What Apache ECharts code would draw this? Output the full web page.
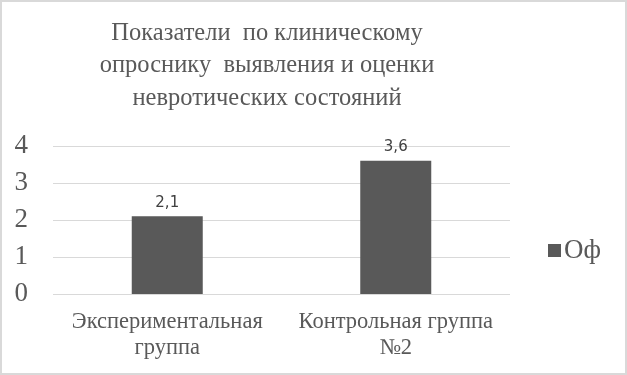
<!DOCTYPE html>
<html><head><meta charset="utf-8">
<script src="https://cdn.jsdelivr.net/npm/echarts@6/dist/echarts.min.js"></script>
<style>html,body{margin:0;padding:0;background:#fff}#c{width:627px;height:375px}</style>
</head><body><div id="c"></div>
<script>
var titleLines = ['Показатели  по клиническому', 'опроснику  выявления и оценки', 'невротических состояний'];
var categories = ['Экспериментальная\nгруппа', 'Контрольная группа\n№2'];
var seriesName = 'Оф';
var values = [2.1, 3.6];
var yTicks = [0, 1, 2, 3, 4];

var chart = echarts.init(document.getElementById('c'), null, {renderer: 'canvas'});
chart.setOption({
  animation: false,
  backgroundColor: '#fff',
  graphic: [{type: 'rect', shape: {x: 1, y: 1, width: 625, height: 373}, style: {fill: 'none', stroke: '#d9d9d9', lineWidth: 2}, silent: true}],
  title: {
    text: titleLines.join('\n'),
    left: 262, top: 12, textAlign: 'center',
    textStyle: {fontFamily: 'Liberation Serif', fontSize: 24.5, fontWeight: 'normal', color: '#595959', lineHeight: 32.5}
  },
  legend: {
    data: [seriesName], left: 543, top: 232, icon: 'rect', itemWidth: 13, itemHeight: 13, itemGap: 6,
    textStyle: {fontFamily: 'Liberation Serif', fontSize: 27, color: '#595959', padding: [0, 0, 0, -2]}
  },
  grid: {left: 53, right: 117, top: 146, bottom: 81, containLabel: false},
  xAxis: {
    type: 'category', data: categories,
    axisLine: {show: false}, axisTick: {show: false},
    axisLabel: {fontFamily: 'Liberation Serif', fontSize: 22.5, color: '#595959', lineHeight: 26, margin: 15, interval: 0}
  },
  yAxis: {
    type: 'value', min: yTicks[0], max: yTicks[yTicks.length - 1], interval: 1,
    axisLine: {show: false}, axisTick: {show: false},
    splitLine: {lineStyle: {color: '#d9d9d9', width: 1}},
    axisLabel: {fontFamily: 'Liberation Serif', fontSize: 27, color: '#595959', margin: 25}
  },
  series: [{
    name: seriesName, type: 'bar', data: values, barWidth: 71,
    itemStyle: {color: '#595959'},
    label: {show: true, position: 'top', distance: 6, fontFamily: 'DejaVu Sans', fontSize: 15, color: '#404040',
      formatter: function (p) { return String(p.value).replace('.', ','); }}
  }]
});
</script></body></html>
